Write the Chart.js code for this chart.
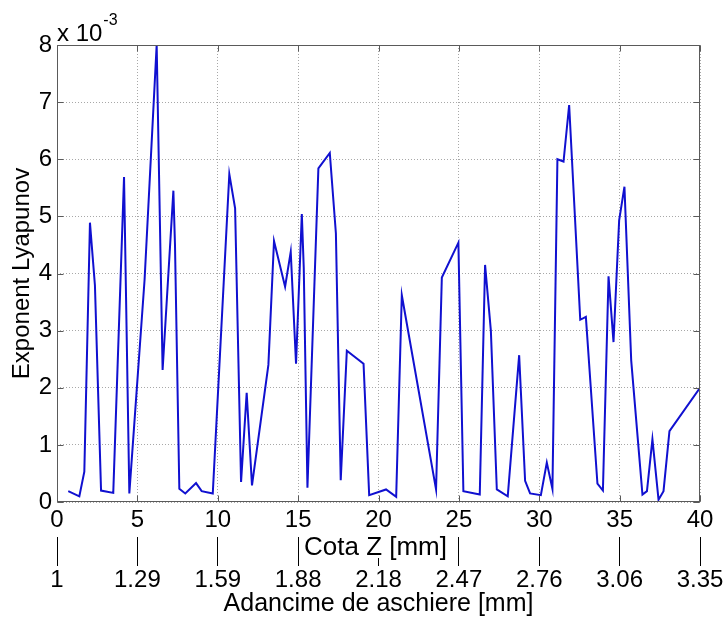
<!DOCTYPE html>
<html>
<head>
<meta charset="utf-8">
<script src="https://cdn.jsdelivr.net/npm/chart.js@4.4.1/dist/chart.umd.min.js"></script>
<style>
  html, body { margin: 0; padding: 0; background: #ffffff; }
  #wrap { width: 727px; height: 621px; }
</style>
</head>
<body>
<div id="wrap"><canvas id="c" width="727" height="621"></canvas></div>
<script>
// Cota Z [mm] of each measurement
const cotaZ = [
  0.70, 1.39, 1.70, 2.05, 2.36, 2.74, 3.50, 4.17, 4.50, 5.45,
  6.20, 6.57, 7.24, 7.34, 7.61, 7.98, 8.65, 9.00, 9.69, 10.72,
  11.08, 11.45, 11.80, 12.13, 13.15, 13.50, 14.19, 14.54, 14.87, 15.23,
  15.35, 15.58, 16.26, 16.97, 17.35, 17.65, 18.03, 19.07, 19.42, 20.47,
  21.10, 21.45, 23.58, 23.94, 24.97, 25.28, 26.30, 26.63, 26.99, 27.36,
  28.04, 28.75, 29.12, 29.43, 30.10, 30.47, 30.82, 31.13, 31.51, 31.86,
  32.55, 32.90, 33.62, 33.96, 34.31, 34.62, 34.97, 35.30, 35.72, 36.42,
  36.70, 37.04, 37.42, 37.73, 38.10, 40.00
];

// Lyapunov exponent, in units of 10^-3
const lyapunov = [
  0.19, 0.10, 0.53, 4.89, 3.79, 0.20, 0.16, 5.69, 0.15, 3.90,
  8.00, 2.31, 5.45, 4.50, 0.23, 0.15, 0.33, 0.19, 0.15, 5.74,
  5.14, 0.35, 1.91, 0.29, 2.40, 4.57, 3.77, 4.38, 2.42, 5.04,
  4.10, 0.25, 5.84, 6.11, 4.70, 0.38, 2.65, 2.42, 0.12, 0.22,
  0.09, 3.62, 0.22, 3.93, 4.54, 0.19, 0.13, 4.15, 3.00, 0.22,
  0.10, 2.57, 0.37, 0.15, 0.12, 0.69, 0.23, 6.00, 5.96, 6.95,
  3.19, 3.24, 0.32, 0.20, 3.95, 2.80, 4.93, 5.52, 2.48, 0.13,
  0.19, 1.10, 0.04, 0.19, 1.24, 2.00
];

// Depth of cut shown under each Cota Z tick
const depthLabels = ['1', '1.29', '1.59', '1.88', '2.18', '2.47', '2.76', '3.06', '3.35'];

const yTitle = 'Exponent Lyapunov';
const xTitle = 'Cota Z [mm]';
const x2Title = 'Adancime de aschiere [mm]';
const yMultiplierBase = 'x 10';
const yMultiplierExp = '-3';

const FONT = "'Liberation Sans', Arial, Helvetica, sans-serif";
const FRAME = '#5a5a5a';

// Box, inward ticks, exponent note and the first x-axis title
const matlabBox = {
  id: 'matlabBox',
  afterDraw(chart) {
    const { ctx, chartArea: a, scales } = chart;
    const xs = scales.x, ys = scales.y;
    ctx.save();
    ctx.strokeStyle = FRAME;
    ctx.lineWidth = 1;
    const L = Math.round(a.left) + 0.5, R = Math.round(a.right) - 0.5;
    const T = Math.round(a.top) + 0.5, B = Math.round(a.bottom) - 0.5;
    ctx.strokeRect(L, T, R - L, B - T);
    const len = 6;
    ctx.beginPath();
    xs.ticks.forEach(t => {
      const px = Math.round(xs.getPixelForValue(t.value)) + 0.5;
      ctx.moveTo(px, B); ctx.lineTo(px, B - len);
      ctx.moveTo(px, T); ctx.lineTo(px, T + len);
    });
    ys.ticks.forEach(t => {
      const py = Math.round(ys.getPixelForValue(t.value)) + 0.5;
      ctx.moveTo(L, py); ctx.lineTo(L + len, py);
      ctx.moveTo(R, py); ctx.lineTo(R - len, py);
    });
    ctx.stroke();

    // exponent note above the y axis
    ctx.fillStyle = '#000';
    ctx.textBaseline = 'alphabetic';
    ctx.textAlign = 'left';
    ctx.font = '24px ' + FONT;
    ctx.fillText(yMultiplierBase, a.left, a.top - 4);
    const w = ctx.measureText(yMultiplierBase).width;
    ctx.font = '16px ' + FONT;
    ctx.fillText(yMultiplierExp, a.left + w + 1, a.top - 20);

    // first x-axis title, on a white label box over the depth tick marks
    ctx.font = '26px ' + FONT;
    const tw = ctx.measureText(xTitle).width;
    const cx = (a.left + a.right) / 2 - 3;
    const baseY = xs.bottom + 18;
    ctx.fillStyle = '#ffffff';
    ctx.fillRect(cx - tw / 2 - 2, xs.bottom - 1, tw + 4, 22);
    ctx.fillStyle = '#000';
    ctx.textAlign = 'center';
    ctx.fillText(xTitle, cx, baseY);
    ctx.restore();
  }
};

new Chart(document.getElementById('c'), {
  type: 'line',
  data: {
    datasets: [{
      data: cotaZ.map((z, i) => ({ x: z, y: lyapunov[i] })),
      borderColor: '#1010d0',
      borderWidth: 2,
      pointRadius: 0,
      tension: 0,
      fill: false
    }]
  },
  options: {
    responsive: false,
    animation: false,
    devicePixelRatio: 1,
    layout: { padding: { left: 0, right: 27, top: 45, bottom: 0 } },
    plugins: { legend: { display: false }, tooltip: { enabled: false } },
    scales: {
      x: {
        type: 'linear',
        position: 'bottom',
        min: 0, max: 40,
        ticks: { stepSize: 5, color: '#000', font: { family: FONT, size: 24 }, padding: 4, maxRotation: 0 },
        grid: { color: '#a8a8a8', lineWidth: 1, drawTicks: false },
        border: { display: false, dash: [1, 2] },
        afterFit(s) { s.height = 35; }
      },
      x2: {
        type: 'linear',
        position: 'bottom',
        min: 0, max: 40,
        ticks: {
          stepSize: 5, color: '#000', font: { family: FONT, size: 24 }, padding: 0, maxRotation: 0,
          callback: (v, i) => depthLabels[i]
        },
        grid: { drawOnChartArea: false, drawTicks: true, tickLength: 29, color: '#000', lineWidth: 1 },
        border: { display: false },
        title: { display: true, text: x2Title, color: '#000', font: { family: FONT, size: 25 }, padding: { top: 0, bottom: 2 } },
        afterFit(s) { s.height = 84; }
      },
      y: {
        min: 0, max: 8,
        ticks: { stepSize: 1, color: '#000', font: { family: FONT, size: 24 }, padding: 5 },
        grid: { color: '#a8a8a8', lineWidth: 1, drawTicks: false },
        border: { display: false, dash: [1, 2] },
        title: { display: true, text: yTitle, color: '#000', font: { family: FONT, size: 24 }, padding: { top: 8, bottom: 0 } },
        afterFit(s) { s.width = 57; }
      }
    }
  },
  plugins: [matlabBox]
});
</script>
</body>
</html>
